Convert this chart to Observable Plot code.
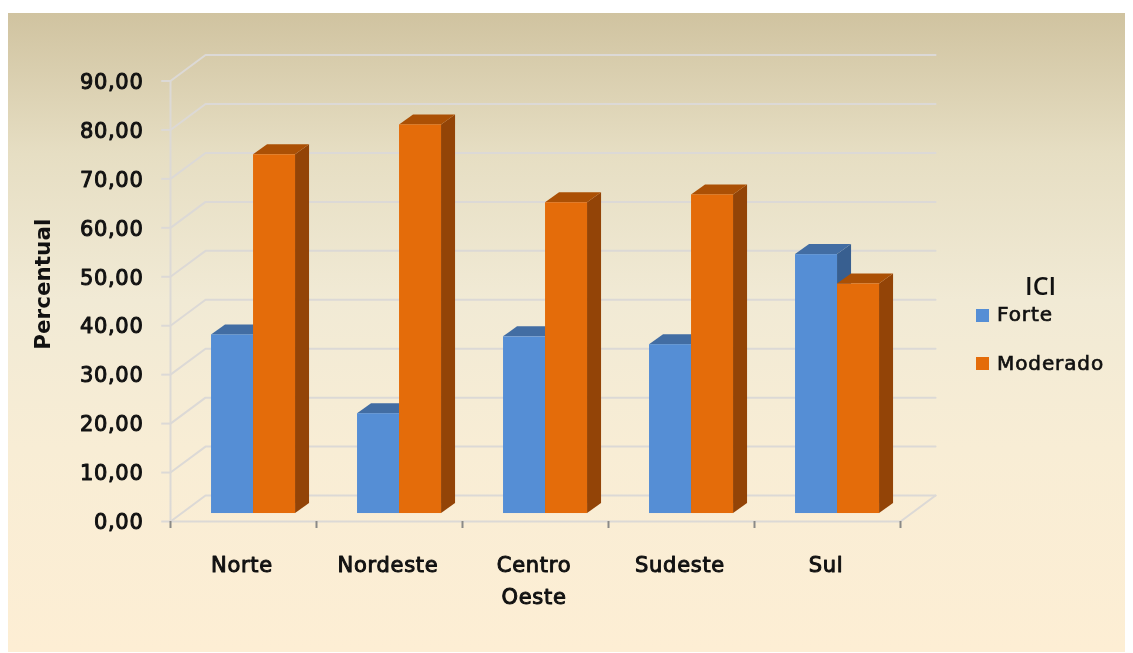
<!DOCTYPE html>
<html><head><meta charset="utf-8">
<script src="https://cdn.jsdelivr.net/npm/d3@7"></script>
<script src="https://cdn.jsdelivr.net/npm/@observablehq/plot@0.6"></script>
<style>
html,body{margin:0;padding:0;background:#fff;overflow:hidden}
#panel{position:absolute;left:8px;top:13px;width:1117px;height:639px;
 background:linear-gradient(180deg,#d0c3a0 0%,#e6dec3 22%,#f1ead5 45%,#f8edd5 68%,#fdeed4 100%)}
#chart{position:absolute;left:0;top:0;filter:blur(.45px)}
#chart svg{background:transparent!important}
#chart svg text{letter-spacing:.7px;stroke-linejoin:round}
#chart svg .pct text{letter-spacing:0}
.lg{position:absolute;font-family:"DejaVu Sans",sans-serif;color:#111;white-space:nowrap;filter:blur(.45px);font-size:20px;letter-spacing:.9px;-webkit-text-stroke:.7px #111}
.sw{position:absolute;width:13px;height:13px}
</style></head>
<body>
<div id="panel"></div>
<div id="chart"></div>
<div class="lg" style="left:1025px;top:268px;font-size:25px;letter-spacing:0;-webkit-text-stroke:0;font-family:'Open Sans',sans-serif;font-weight:600">ICI</div>
<div class="sw" style="left:976px;top:309px;background:#558ed5"></div>
<div class="lg" style="left:997px;top:302px">Forte</div>
<div class="sw" style="left:976px;top:357px;background:#e46c0a"></div>
<div class="lg" style="left:997px;top:351px">Moderado</div>
<script>
const regions = ["Norte","Nordeste","Centro\nOeste","Sudeste","Sul"];
const forte = [36.5,20.4,36.1,34.5,52.9];
const moderado = [73.3,79.4,63.5,65.1,46.9];
const yTicks = [0,10,20,30,40,50,60,70,80,90];
const groupEdges = [0,1,2,3,4,5];

// oblique depth of the plot box and of the bars, in scale units
const wallDx = 0.24, wallDy = 5.3;
const barOffset = 0.281, barW = 0.2877, barBaseDy = 1.63, barDx = 0.096, barDy = 2.04;
const gridColor = "#dcd9d6";

const marks = [];
// walls
for (const t of yTicks) {
  marks.push(Plot.line([{x:0,y:t},{x:wallDx,y:t+wallDy},{x:5+wallDx,y:t+wallDy}],
    {x:"x",y:"y",stroke:gridColor,strokeWidth:2}));
}
marks.push(Plot.line([{x:0,y:0},{x:0,y:90}],{x:"x",y:"y",stroke:gridColor,strokeWidth:2}));
marks.push(Plot.line([{x:0,y:0},{x:5,y:0},{x:5+wallDx,y:wallDy}],{x:"x",y:"y",stroke:gridColor,strokeWidth:2}));
marks.push(Plot.ruleY(yTicks,{x1:-0.06,x2:0,stroke:gridColor,strokeWidth:2}));

// 3D bars
const series = [
  {values:forte,pos:0,front:"#558ed5",side:"#385f90",top:"#426da3"},
  {values:moderado,pos:1,front:"#e46c0a",side:"#934407",top:"#ab5005"}
];
for (const s of series) {
  const rows = s.values.map((v,i)=>{
    const x1=i+barOffset+s.pos*barW;
    return {x1,x2:x1+barW,y0:barBaseDy,y1:v+barBaseDy};
  });
  const side = rows.flatMap((r,i)=>[
    {k:i,x:r.x2,b:r.y0,t:r.y1},
    {k:i,x:r.x2+barDx,b:r.y0+barDy,t:r.y1+barDy}]);
  const top = rows.flatMap((r,i)=>[
    {k:i,y:r.y1,a:r.x1,c:r.x2},
    {k:i,y:r.y1+barDy,a:r.x1+barDx,c:r.x2+barDx}]);
  marks.push(Plot.areaY(side,{x:"x",y1:"b",y2:"t",z:"k",fill:s.side,curve:"linear"}));
  marks.push(Plot.areaX(top,{y:"y",x1:"a",x2:"c",z:"k",fill:s.top,curve:"linear"}));
  marks.push(Plot.rect(rows,{x1:"x1",x2:"x2",y1:"y0",y2:"y1",fill:s.front}));
}

// axes
const txt = {fill:"#111",textStroke:"#111",textStrokeWidth:1,fontSize:21};
marks.push(Plot.axisY({ticks:yTicks,tickSize:0,tickPadding:27,label:null,dy:1,
  tickFormat:d=>d3.format(".2f")(d).replace(".",","),...txt}));
marks.push(Plot.axisX({ticks:groupEdges,tickSize:7,tickFormat:()=>"",stroke:"#8a8a88",strokeWidth:2,label:null,tickPadding:0}));
marks.push(Plot.axisX({ticks:regions.map((_,i)=>i+0.5),tickSize:0,tickPadding:27,label:null,lineAnchor:"top",dx:-1.5,
  tickFormat:d=>regions[Math.floor(d)],lineHeight:1.55,...txt}));
marks.push(Plot.text(["Percentual"],{frameAnchor:"left",textAnchor:"middle",dx:-127,dy:-17,rotate:-90,className:"pct",fill:"#111",fontWeight:"bold",fontSize:21.5}));

const chart = Plot.plot({
  width:1133,height:653,
  marginLeft:170,marginRight:233,marginTop:80.5,marginBottom:132,
  style:{background:"transparent",fontFamily:"'DejaVu Sans',sans-serif",fontSize:"20px"},
  x:{domain:[0,5]},
  y:{domain:[0,90]},
  marks
});
document.getElementById("chart").append(chart);
</script>
</body></html>
